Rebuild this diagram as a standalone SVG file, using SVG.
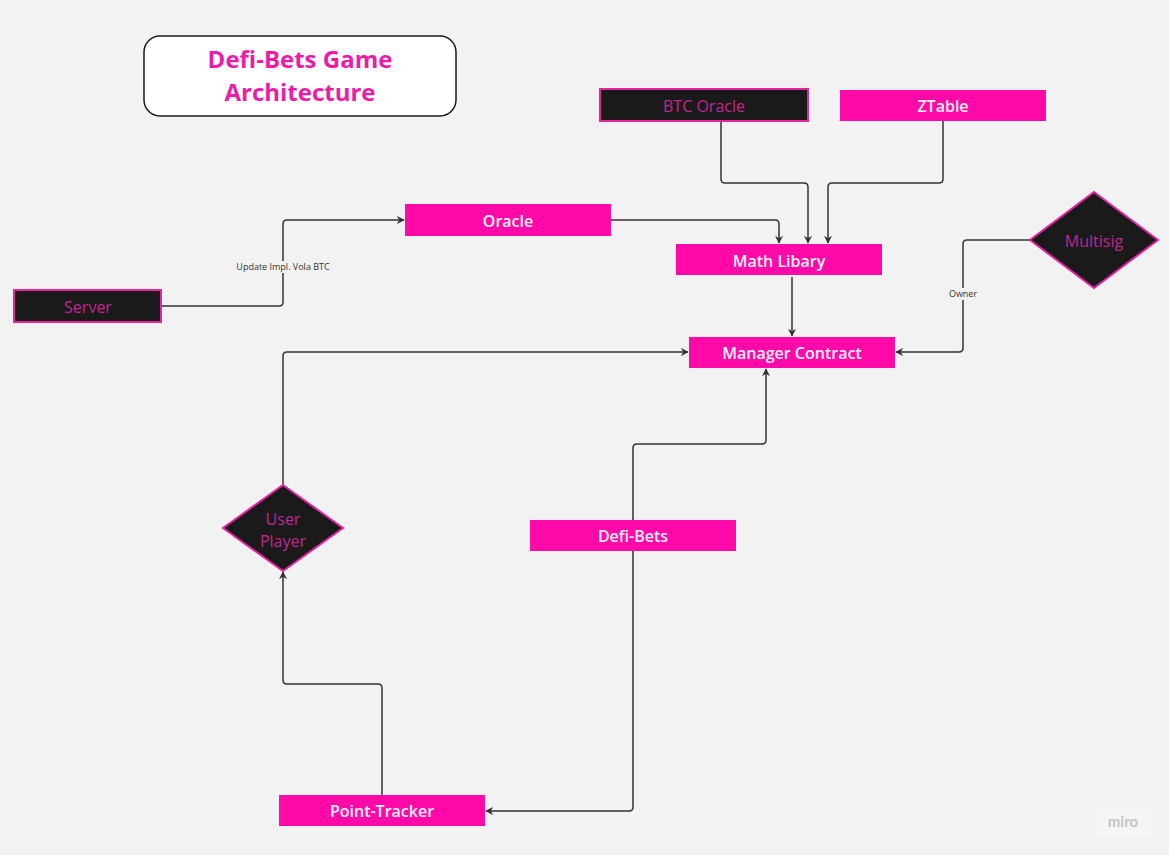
<svg xmlns="http://www.w3.org/2000/svg" width="1169" height="855" viewBox="0 0 1169 855">
<defs>
<style>
.bg{fill:#f2f2f2}
.pk{fill:#ff0aa8}
.dk{fill:#1a1a1a;stroke:#e5249f;stroke-width:2}
.wt{font-family:"Open Sans","Liberation Sans",sans-serif;font-size:16px;font-weight:600;fill:#fff0fa;text-anchor:middle}
.dt{font-family:"Open Sans","Liberation Sans",sans-serif;font-size:16px;fill:#c32591;text-anchor:middle}
.ttl{font-family:"Open Sans","Liberation Sans",sans-serif;font-size:24px;font-weight:700;fill:#ee1aa8;text-anchor:middle}
.ln{fill:none;stroke:#333333;stroke-width:1.5;stroke-linejoin:round}
.lb{font-family:"Open Sans","Liberation Sans",sans-serif;font-size:9px;fill:#333333;text-anchor:middle}
</style>
<marker id="ah" viewBox="0 0 10 10" refX="9" refY="5" markerWidth="8" markerHeight="8" markerUnits="userSpaceOnUse" orient="auto">
<path d="M0,0 L10,5 L0,10 L3,5 Z" fill="#333333"/>
</marker>
</defs>
<rect class="bg" x="0" y="0" width="1169" height="855"/>

<g id="connectors">
<path class="ln" d="M721,121 V179 Q721,183 725,183 H804 Q808,183 808,187 V243" marker-end="url(#ah)"/>
<path class="ln" d="M943,121 V179 Q943,183 939,183 H832 Q828,183 828,187 V243" marker-end="url(#ah)"/>
<path class="ln" d="M611,220 H775 Q779,220 779,224 V243" marker-end="url(#ah)"/>
<path class="ln" d="M161,306 H279 Q283,306 283,302 V224 Q283,220 287,220 H404" marker-end="url(#ah)"/>
<rect x="232" y="261" width="102" height="12" class="bg"/>
<text class="lb" x="283" y="270">Update Impl. Vola BTC</text>
<path class="ln" d="M792,277 V336" marker-end="url(#ah)"/>
<path class="ln" d="M1030,240 H967 Q963,240 963,244 V348 Q963,352 959,352 H896" marker-end="url(#ah)"/>
<rect x="946" y="288" width="34" height="12" class="bg"/>
<text class="lb" x="963" y="297">Owner</text>
<path class="ln" d="M283,485 V356 Q283,352 287,352 H688" marker-end="url(#ah)"/>
<path class="ln" d="M633,520 V448 Q633,444 637,444 H762 Q766,444 766,440 V369" marker-end="url(#ah)"/>
<path class="ln" d="M633,551 V807 Q633,811 629,811 H486" marker-end="url(#ah)"/>
<path class="ln" d="M382,795 V688 Q382,684 378,684 H287 Q283,684 283,680 V572" marker-end="url(#ah)"/>
</g>

<g id="title">
<rect x="144" y="36" width="312" height="80" rx="16" ry="16" fill="#ffffff" stroke="#1a1a1a" stroke-width="1.5"/>
<text class="ttl" x="300" y="68">Defi-Bets Game</text>
<text class="ttl" x="300" y="101">Architecture</text>
</g>

<g id="btc-oracle">
<rect class="dk" x="600" y="89" width="208" height="32"/>
<text class="dt" x="704" y="112">BTC Oracle</text>
</g>

<g id="ztable">
<rect class="pk" x="840" y="90" width="206" height="31"/>
<text class="wt" x="943" y="112">ZTable</text>
</g>

<g id="oracle">
<rect class="pk" x="405" y="204" width="206" height="32"/>
<text class="wt" x="508" y="227">Oracle</text>
</g>

<g id="math-libary">
<rect class="pk" x="676" y="244" width="206" height="31"/>
<text class="wt" x="779" y="267">Math Libary</text>
</g>

<g id="server">
<rect class="dk" x="14" y="290" width="147" height="32"/>
<text class="dt" x="88" y="313">Server</text>
</g>

<g id="multisig">
<polygon class="dk" points="1094,192 1158,240 1094,288 1030,240"/>
<text class="dt" x="1094" y="247">Multisig</text>
</g>

<g id="manager-contract">
<rect class="pk" x="689" y="337" width="206" height="31"/>
<text class="wt" x="792" y="359">Manager Contract</text>
</g>

<g id="user-player">
<polygon class="dk" points="283,485 343,528 283,571 223,528"/>
<text class="dt" x="283" y="525">User</text>
<text class="dt" x="283" y="547">Player</text>
</g>

<g id="defi-bets">
<rect class="pk" x="530" y="520" width="206" height="31"/>
<text class="wt" x="633" y="542">Defi-Bets</text>
</g>

<g id="point-tracker">
<rect class="pk" x="279" y="795" width="206" height="31"/>
<text class="wt" x="382" y="817">Point-Tracker</text>
</g>

<g id="miro">
<rect x="1097" y="807" width="54" height="29" fill="#f5f5f5"/>
<text x="1123" y="827" font-family="Lato,'Liberation Sans',sans-serif" font-size="15" font-weight="700" fill="#c4c4c8" text-anchor="middle">miro</text>
</g>
</svg>
